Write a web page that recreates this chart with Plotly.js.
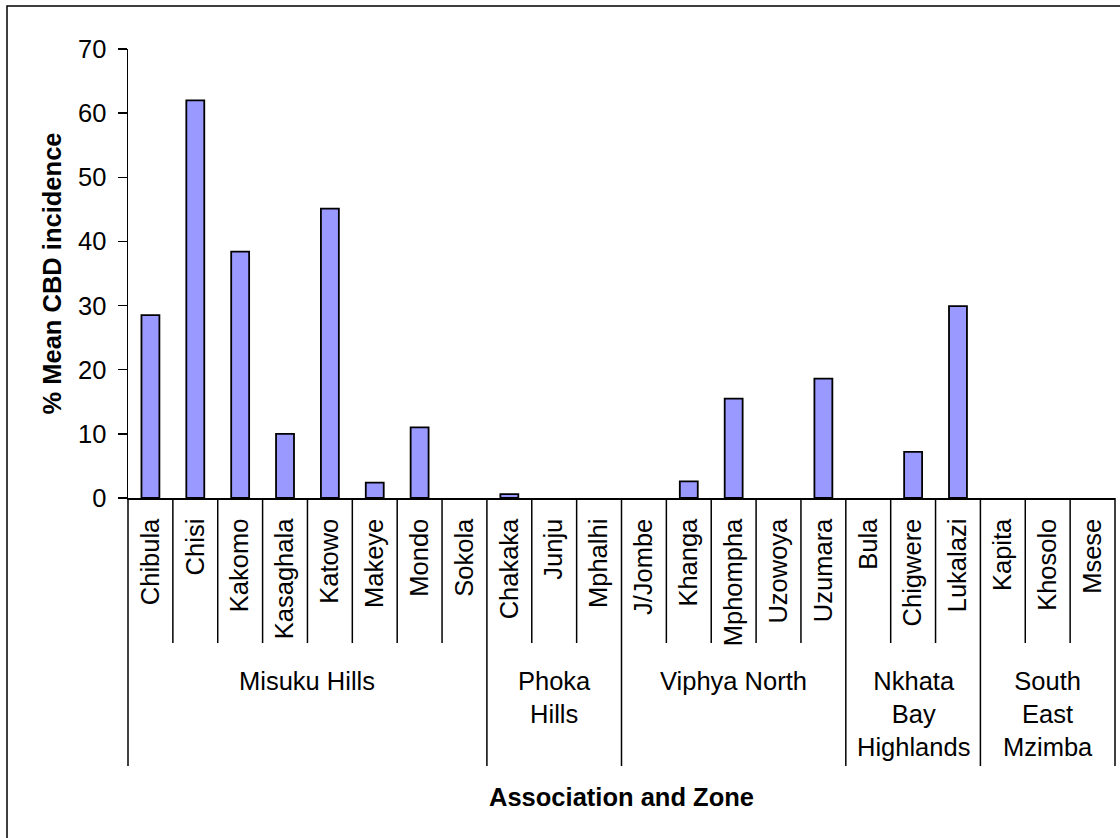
<!DOCTYPE html>
<html><head><meta charset="utf-8">
<script src="https://cdn.plot.ly/plotly-3.0.1.min.js"></script>
<style>html,body{margin:0;padding:0;background:#fff}#chart{width:1120px;height:838px}</style>
</head><body><div id="chart"></div>
<script>
// ---- data ----
const associations = ["Chibula","Chisi","Kakomo","Kasaghala","Katowo","Makeye","Mondo","Sokola",
  "Chakaka","Junju","Mphalhi",
  "J/Jombe","Khanga","Mphompha","Uzowoya","Uzumara",
  "Bula","Chigwere","Lukalazi",
  "Kapita","Khosolo","Msese"];
const incidence = [28.5,62.0,38.4,10.0,45.1,2.4,11.0,0,
  0.6,0,0,
  0,2.6,15.5,0,18.6,
  0,7.2,29.9,
  0,0,0];
const zones = ["Misuku Hills","Phoka<br>Hills","Viphya North","Nkhata<br>Bay<br>Highlands","South<br>East<br>Mzimba"];
const zoneSizes = [8,3,5,3,3];
const yTicks = [0,10,20,30,40,50,60,70];

// ---- layout geometry ----
const W = 1120, H = 838;
const M = {l:128, r:5, t:49, b:340};
const plotW = W - M.l - M.r, plotH = H - M.t - M.b;
const pyPaper = p => (H - M.b - p) / plotH;   // pixel y -> paper y
const pxPaper = p => (p - M.l) / plotW;       // pixel x -> paper x
const FONT = "Liberation Sans, Arial, sans-serif";
const FS = 25.5;

const n = associations.length;
const shapes = [];
const groupEdges = new Set([0]);
let acc = 0;
zoneSizes.forEach(s => { acc += s; groupEdges.add(acc); });
for (let k = 0; k <= n; k++) {
  const xp = k / n;
  shapes.push({type:'line', xref:'paper', yref:'paper', x0:xp, x1:xp,
    y0:0, y1: groupEdges.has(k) ? pyPaper(766) : pyPaper(643),
    line:{color:'#000', width:1.5}});
}
// outer chart border (right and bottom edges fall outside the picture)
shapes.push({type:'rect', xref:'paper', yref:'paper',
  x0:pxPaper(7), x1:pxPaper(1130), y0:pyPaper(850), y1:pyPaper(6),
  line:{color:'#000', width:1.5}, fillcolor:'rgba(0,0,0,0)', layer:'below'});

const annotations = [];
let start = 0;
zones.forEach((z, i) => {
  annotations.push({xref:'x', yref:'paper', x: start + (zoneSizes[i]-1)/2,
    y: pyPaper(665), yanchor:'top', xanchor:'center', align:'center', showarrow:false,
    text: z, font:{family:FONT, size:FS, color:'#000'}});
  start += zoneSizes[i];
});

const trace = {type:'bar', x: associations, y: incidence,
  marker:{color:'#9999FF', line:{color:'#000', width: incidence.map(v => v > 0 ? 1.8 : 0)}},
  hoverinfo:'x+y'};

const layout = {
  width:W, height:H, margin:M,
  paper_bgcolor:'#fff', plot_bgcolor:'#fff',
  font:{family:FONT, size:FS, color:'#000'},
  showlegend:false, bargap:0.6,
  xaxis:{type:'category', categoryorder:'array', categoryarray:associations,
    range:[-0.5, n-0.5], tickangle:-90, ticks:'', showline:true, linecolor:'#000', linewidth:1.5,
    showgrid:false, zeroline:false, automargin:false, ticklabelstandoff:9,
    tickfont:{family:FONT, size:FS, color:'#000'},
    title:{text:'<b>Association and Zone</b>', standoff:143, font:{family:FONT, size:FS, color:'#000'}}},
  yaxis:{range:[0,70], tickvals:yTicks, ticktext:yTicks.map(String), ticks:'outside', ticklen:9, tickwidth:1.5,
    tickcolor:'#000', showline:true, linecolor:'#000', linewidth:1.5, showgrid:false, zeroline:false,
    automargin:false, ticklabelstandoff:6, tickfont:{family:FONT, size:FS, color:'#000'},
    title:{text:'<b>% Mean CBD incidence</b>', standoff:9, font:{family:FONT, size:FS, color:'#000'}}},
  shapes: shapes, annotations: annotations
};
Plotly.newPlot('chart', [trace], layout, {staticPlot:true, displayModeBar:false});
</script></body></html>
